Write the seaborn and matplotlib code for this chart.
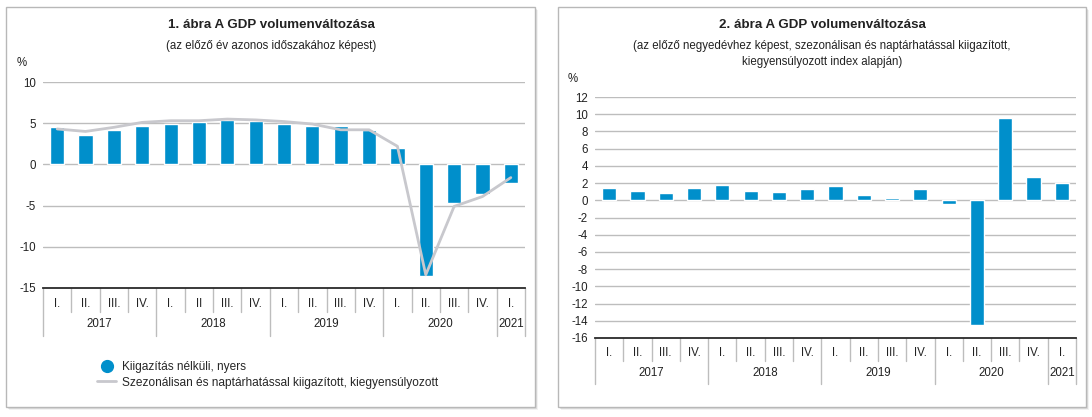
import numpy as np
import pandas as pd
import matplotlib
matplotlib.use("Agg")
import matplotlib.pyplot as plt
from matplotlib.lines import Line2D
from matplotlib.patches import Rectangle
import seaborn as sns

# ---------------- data ----------------
years = ["2017", "2018", "2019", "2020", "2021"]
year_quarter_counts = [4, 4, 4, 4, 1]
quarters_left = ["I.", "II.", "III.", "IV.", "I.", "II", "III.", "IV.", "I.", "II.", "III.", "IV.",
                 "I.", "II.", "III.", "IV.", "I."]
quarters_right = ["I.", "II.", "III.", "IV.", "I.", "II.", "III.", "IV.", "I.", "II.", "III.", "IV.",
                  "I.", "II.", "III.", "IV.", "I."]
raw_yoy = [4.5, 3.6, 4.2, 4.6, 4.9, 5.2, 5.4, 5.3, 4.9, 4.6, 4.7, 4.2,
           2.0, -13.5, -4.7, -3.6, -2.2]
sa_yoy = [4.3, 4.0, 4.5, 5.1, 5.3, 5.3, 5.5, 5.4, 5.2, 4.9, 4.2, 4.2,
          2.2, -13.4, -5.1, -3.9, -1.6]
qoq = [1.4, 1.1, 0.8, 1.4, 1.8, 1.1, 1.0, 1.3, 1.7, 0.6, 0.3, 1.3,
       -0.4, -14.5, 9.6, 2.7, 2.0]

title1 = "1. ábra A GDP volumenváltozása"
sub1 = "(az előző év azonos időszakához képest)"
title2 = "2. ábra A GDP volumenváltozása"
sub2 = "(az előző negyedévhez képest, szezonálisan és naptárhatással kiigazított,\nkiegyensúlyozott index alapján)"
leg_raw = "Kiigazítás nélküli, nyers"
leg_sa = "Szezonálisan és naptárhatással kiigazított, kiegyensúlyozott"

# ---------------- style ----------------
sns.set_theme(style="white")
plt.rcParams["font.family"] = ["Liberation Sans", "DejaVu Sans"]

BLUE = "#008fcb"
LINE_GRAY = "#c8c8cd"
GRID = "#bdbdbd"
TXT = "#222222"

W, H = 1092, 417
fig = plt.figure(figsize=(W / 100, H / 100), dpi=100)
fig.patch.set_facecolor("white")


def fx(x):
    return x / W


def fy(y):
    return 1 - y / H


# panel frames with a soft shadow
for (x0, y0, x1, y1) in [(6, 7, 535, 407), (558, 7, 1086, 407)]:
    for k, a in [(3, 0.05), (2, 0.09), (1, 0.14)]:
        fig.patches.append(Rectangle((fx(x0 + k), fy(y1 + k)), fx(x1 - x0), (y1 - y0) / H,
                                     transform=fig.transFigure, facecolor="#000000",
                                     alpha=a, edgecolor="none", zorder=0))
    fig.patches.append(Rectangle((fx(x0), fy(y1)), fx(x1 - x0), (y1 - y0) / H,
                                 transform=fig.transFigure, facecolor="white",
                                 edgecolor="#b8b8b8", linewidth=1.0, zorder=1))

n = len(raw_yoy)
pos = np.arange(n)
periods = [f"{y}-{i}" for i, y in enumerate(np.repeat(years, year_quarter_counts))]
df1 = pd.DataFrame({"period": periods, "raw": raw_yoy, "sa": sa_yoy, "pos": pos})
df2 = pd.DataFrame({"period": periods, "qoq": qoq, "pos": pos})


def style_axis(ax, ylim, yticks, qlabels, axis_px_h, q_len, y_len, q_lab, y_lab):
    ax.set_zorder(5)
    ax.set_ylim(*ylim)
    ax.set_xlim(-0.5, n - 0.5)
    ax.set_yticks(yticks)
    ax.set_yticklabels([str(t) for t in yticks])
    ax.tick_params(axis="y", length=0, pad=5, labelsize=8.3, labelcolor=TXT)
    ax.set_xticks(pos)
    ax.set_xticklabels([])
    ax.tick_params(axis="x", length=0)
    ax.set_xlabel("")
    ax.set_ylabel("")
    for t in yticks[1:]:
        ax.axhline(t, color=GRID, linewidth=1.0, zorder=0)
    for s in ["top", "right", "left"]:
        ax.spines[s].set_visible(False)
    ax.spines["bottom"].set_color("#2a2a2a")
    ax.spines["bottom"].set_linewidth(1.3)
    ax.spines["bottom"].set_zorder(4)
    ax.set_facecolor("none")
    tr = ax.get_xaxis_transform()
    # separators
    boundaries = np.cumsum([0] + year_quarter_counts) - 0.5
    for b in np.arange(-0.5, n, 1.0):
        is_year = np.any(np.isclose(boundaries, b))
        L = y_len if is_year else q_len
        ax.plot([b, b], [0, -L / axis_px_h], color=GRID, linewidth=1.0,
                transform=tr, clip_on=False)
    for p, lab in zip(pos, qlabels):
        ax.text(p, -q_lab / axis_px_h, lab, transform=tr, ha="center", va="center",
                fontsize=8.3, color=TXT)
    for yr, b0, b1 in zip(years, boundaries[:-1], boundaries[1:]):
        ax.text((b0 + b1) / 2, -y_lab / axis_px_h, yr, transform=tr, ha="center",
                va="center", fontsize=8.3, color=TXT)


# ---------------- chart 1 ----------------
ax1 = fig.add_axes([fx(43), fy(288), fx(525 - 43), (288 - 82) / H])
sns.barplot(data=df1, x="period", y="raw", color=BLUE, width=0.5, saturation=1,
            ax=ax1, zorder=2)
sns.lineplot(data=df1, x="pos", y="sa", color=LINE_GRAY, linewidth=2.0, ax=ax1,
             zorder=3)
style_axis(ax1, (-15, 10), list(range(-15, 11, 5)), quarters_left, 206,
           24, 48, 16, 36)

fig.text(fx(271), fy(25), title1, ha="center", va="center", fontsize=9.6,
         fontweight="bold", color=TXT)
fig.text(fx(271), fy(46), sub1, ha="center", va="center", fontsize=8.3, color=TXT)
fig.text(fx(22), fy(63), "%", ha="center", va="center", fontsize=8.3, color=TXT)

handles = [Line2D([], [], marker="o", linestyle="none", markersize=8.5,
                  markerfacecolor=BLUE, markeredgecolor=BLUE),
           Line2D([], [], color=LINE_GRAY, linewidth=2.0)]
fig.legend(handles, [leg_raw, leg_sa], loc="center left",
           bbox_to_anchor=(fx(97), fy(375)), frameon=False, fontsize=8.6,
           handlelength=1.6, handletextpad=0.5, labelspacing=0.28,
           borderaxespad=0, borderpad=0)

# ---------------- chart 2 ----------------
ax2 = fig.add_axes([fx(595), fy(338), fx(1076 - 595), (338 - 97) / H])
sns.barplot(data=df2, x="period", y="qoq", color=BLUE, width=0.5, saturation=1,
            ax=ax2, zorder=2)
style_axis(ax2, (-16, 12), list(range(-16, 13, 2)), quarters_right, 241,
           23, 46, 15, 35)

fig.text(fx(822), fy(25), title2, ha="center", va="center", fontsize=9.6,
         fontweight="bold", color=TXT)
fig.text(fx(822), fy(54), sub2, ha="center", va="center", fontsize=8.3, color=TXT,
         linespacing=1.55)
fig.text(fx(573), fy(79), "%", ha="center", va="center", fontsize=8.3, color=TXT)

fig.savefig("out.png", dpi=100, facecolor="white")
